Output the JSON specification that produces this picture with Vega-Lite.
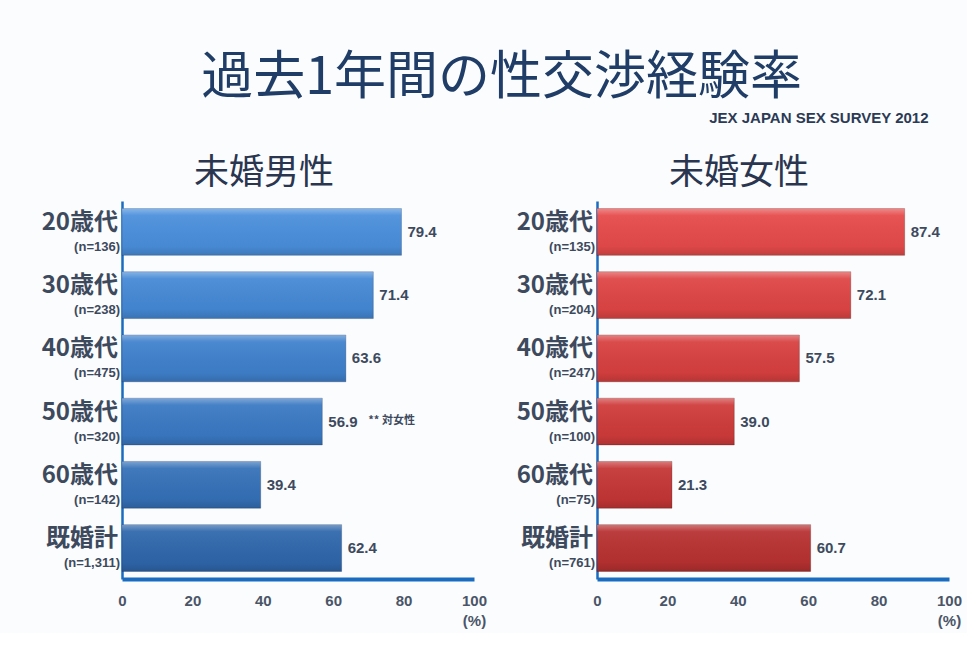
{
  "$schema": "https://vega.github.io/schema/vega-lite/v6.json",
  "background": "#fbfcfd",
  "padding": {"left": 41, "top": 52, "right": 5, "bottom": 5},
  "config": {
    "font": "Noto Sans CJK JP",
    "view": {"stroke": null},
    "concat": {"spacing": 29}
  },
  "title": {
    "text": "過去1年間の性交渉経験率",
    "fontSize": 52,
    "font": "Noto Sans CJK JP",
    "fontWeight": "normal",
    "color": "#1f3d66",
    "anchor": "middle",
    "offset": 6
  },
  "datasets": {
    "d": [
      {"panel": "男", "age": "20歳代", "n": "(n=136)", "rate": 79.4, "note": null},
      {"panel": "男", "age": "30歳代", "n": "(n=238)", "rate": 71.4, "note": null},
      {"panel": "男", "age": "40歳代", "n": "(n=475)", "rate": 63.6, "note": null},
      {"panel": "男", "age": "50歳代", "n": "(n=320)", "rate": 56.9, "note": "** 対女性"},
      {"panel": "男", "age": "60歳代", "n": "(n=142)", "rate": 39.4, "note": null},
      {"panel": "男", "age": "既婚計", "n": "(n=1,311)", "rate": 62.4, "note": null},
      {"panel": "女", "age": "20歳代", "n": "(n=135)", "rate": 87.4, "note": null},
      {"panel": "女", "age": "30歳代", "n": "(n=204)", "rate": 72.1, "note": null},
      {"panel": "女", "age": "40歳代", "n": "(n=247)", "rate": 57.5, "note": null},
      {"panel": "女", "age": "50歳代", "n": "(n=100)", "rate": 39.0, "note": null},
      {"panel": "女", "age": "60歳代", "n": "(n=75)", "rate": 21.3, "note": null},
      {"panel": "女", "age": "既婚計", "n": "(n=761)", "rate": 60.7, "note": null}
    ]
  },
  "vconcat": [
    {
      "title": {
        "text": "JEX  JAPAN  SEX  SURVEY 2012",
        "anchor": "end",
        "fontSize": 15,
        "font": "Liberation Sans",
        "fontWeight": "bold",
        "color": "#2b3a55",
        "dx": -33,
        "offset": 30
      },
      "resolve": {"scale": {"color": "independent"}},
      "hconcat": [
        {
          "width": 352,
          "height": 378,
          "data": {"name": "d"},
          "title": {"text": "未婚男性", "fontSize": 35, "fontWeight": "normal", "color": "#2a3550", "frame": "bounds", "anchor": "middle", "offset": 10},
          "transform": [{"filter": "datum.panel === '男'"}],
          "encoding": {
            "y": {
              "field": "age", "type": "nominal", "sort": null,
              "scale": {"paddingInner": 0.26, "paddingOuter": 0.12},
              "axis": {"labels": false, "ticks": false, "title": null, "domainColor": "#1a6cc0", "domainWidth": 2.5}
            }
          },
          "layer": [
            {
              "mark": {"type": "bar", "stroke": "rgba(20,40,80,0.25)", "strokeWidth": 1},
              "encoding": {
                "x": {
                  "field": "rate", "type": "quantitative",
                  "scale": {"domain": [0, 100]},
                  "axis": {"values": [0, 20, 40, 60, 80, 100], "grid": false, "ticks": false, "title": null, "domainColor": "#1a6cc0", "domainWidth": 4, "labelFontSize": 15, "labelFontWeight": "bold", "labelFont": "Liberation Sans", "labelColor": "#4a5568", "labelPadding": 14, "labelLineHeight": 20, "labelExpr": "datum.value == 100 ? ['100', '(%)'] : datum.label", "labelFlush": false}
                },
                "color": {
                  "field": "age", "type": "nominal", "sort": null, "legend": null,
                  "scale": {"domain": ["20歳代", "30歳代", "40歳代", "50歳代", "60歳代", "既婚計"], "range": ["#4a8fdc", "#4589d6", "#3f81cd", "#3a79c3", "#3571b8", "#2f67ac"]}
                }
              }
            },
            {
              "mark": {
                "type": "bar",
                "fill": {"gradient": "linear", "x1": 0, "y1": 0, "x2": 0, "y2": 1, "stops": [
                  {"offset": 0, "color": "rgba(255,255,255,0.35)"},
                  {"offset": 0.15, "color": "rgba(255,255,255,0.06)"},
                  {"offset": 0.8, "color": "rgba(0,0,0,0.04)"},
                  {"offset": 1, "color": "rgba(0,0,0,0.16)"}
                ]}
              },
              "encoding": {"x": {"field": "rate", "type": "quantitative"}}
            },
            {
              "mark": {"type": "text", "align": "left", "dx": 6, "fontSize": 15, "fontWeight": "bold", "font": "Liberation Sans", "color": "#3d4a5e"},
              "encoding": {"x": {"field": "rate", "type": "quantitative"}, "text": {"field": "rate", "format": ".1f"}}
            },
            {
              "transform": [{"filter": "datum.note != null"}],
              "mark": {"type": "text", "align": "left", "dx": 46, "dy": -1, "fontSize": 11, "fontWeight": "bold", "color": "#3d4a5e"},
              "encoding": {"x": {"field": "rate", "type": "quantitative"}, "text": {"field": "note"}}
            },
            {
              "mark": {"type": "text", "align": "right", "dx": -4, "dy": -9, "fontSize": 24, "fontWeight": "bold", "color": "#3d4a5e"},
              "encoding": {"x": {"datum": 0}, "text": {"field": "age"}}
            },
            {
              "mark": {"type": "text", "align": "right", "dx": -2, "dy": 15, "fontSize": 13, "fontWeight": "bold", "font": "Liberation Sans", "color": "#3d4a5e"},
              "encoding": {"x": {"datum": 0}, "text": {"field": "n"}}
            }
          ]
        },
        {
          "width": 352,
          "height": 378,
          "data": {"name": "d"},
          "title": {"text": "未婚女性", "fontSize": 35, "fontWeight": "normal", "color": "#2a3550", "frame": "bounds", "anchor": "middle", "offset": 10},
          "transform": [{"filter": "datum.panel === '女'"}],
          "encoding": {
            "y": {
              "field": "age", "type": "nominal", "sort": null,
              "scale": {"paddingInner": 0.26, "paddingOuter": 0.12},
              "axis": {"labels": false, "ticks": false, "title": null, "domainColor": "#1a6cc0", "domainWidth": 2.5}
            }
          },
          "layer": [
            {
              "mark": {"type": "bar", "stroke": "rgba(60,10,10,0.25)", "strokeWidth": 1},
              "encoding": {
                "x": {
                  "field": "rate", "type": "quantitative",
                  "scale": {"domain": [0, 100]},
                  "axis": {"values": [0, 20, 40, 60, 80, 100], "grid": false, "ticks": false, "title": null, "domainColor": "#1a6cc0", "domainWidth": 4, "labelFontSize": 15, "labelFontWeight": "bold", "labelFont": "Liberation Sans", "labelColor": "#4a5568", "labelPadding": 14, "labelLineHeight": 20, "labelExpr": "datum.value == 100 ? ['100', '(%)'] : datum.label", "labelFlush": false}
                },
                "color": {
                  "field": "age", "type": "nominal", "sort": null, "legend": null,
                  "scale": {"domain": ["20歳代", "30歳代", "40歳代", "50歳代", "60歳代", "既婚計"], "range": ["#e64a4a", "#df4545", "#d84040", "#cf3b3b", "#c53636", "#b83131"]}
                }
              }
            },
            {
              "mark": {
                "type": "bar",
                "fill": {"gradient": "linear", "x1": 0, "y1": 0, "x2": 0, "y2": 1, "stops": [
                  {"offset": 0, "color": "rgba(255,255,255,0.35)"},
                  {"offset": 0.15, "color": "rgba(255,255,255,0.06)"},
                  {"offset": 0.8, "color": "rgba(0,0,0,0.04)"},
                  {"offset": 1, "color": "rgba(0,0,0,0.16)"}
                ]}
              },
              "encoding": {"x": {"field": "rate", "type": "quantitative"}}
            },
            {
              "mark": {"type": "text", "align": "left", "dx": 6, "fontSize": 15, "fontWeight": "bold", "font": "Liberation Sans", "color": "#3d4a5e"},
              "encoding": {"x": {"field": "rate", "type": "quantitative"}, "text": {"field": "rate", "format": ".1f"}}
            },
            {
              "mark": {"type": "text", "align": "right", "dx": -4, "dy": -9, "fontSize": 24, "fontWeight": "bold", "color": "#3d4a5e"},
              "encoding": {"x": {"datum": 0}, "text": {"field": "age"}}
            },
            {
              "mark": {"type": "text", "align": "right", "dx": -2, "dy": 15, "fontSize": 13, "fontWeight": "bold", "font": "Liberation Sans", "color": "#3d4a5e"},
              "encoding": {"x": {"datum": 0}, "text": {"field": "n"}}
            }
          ]
        }
      ]
    }
  ]
}
